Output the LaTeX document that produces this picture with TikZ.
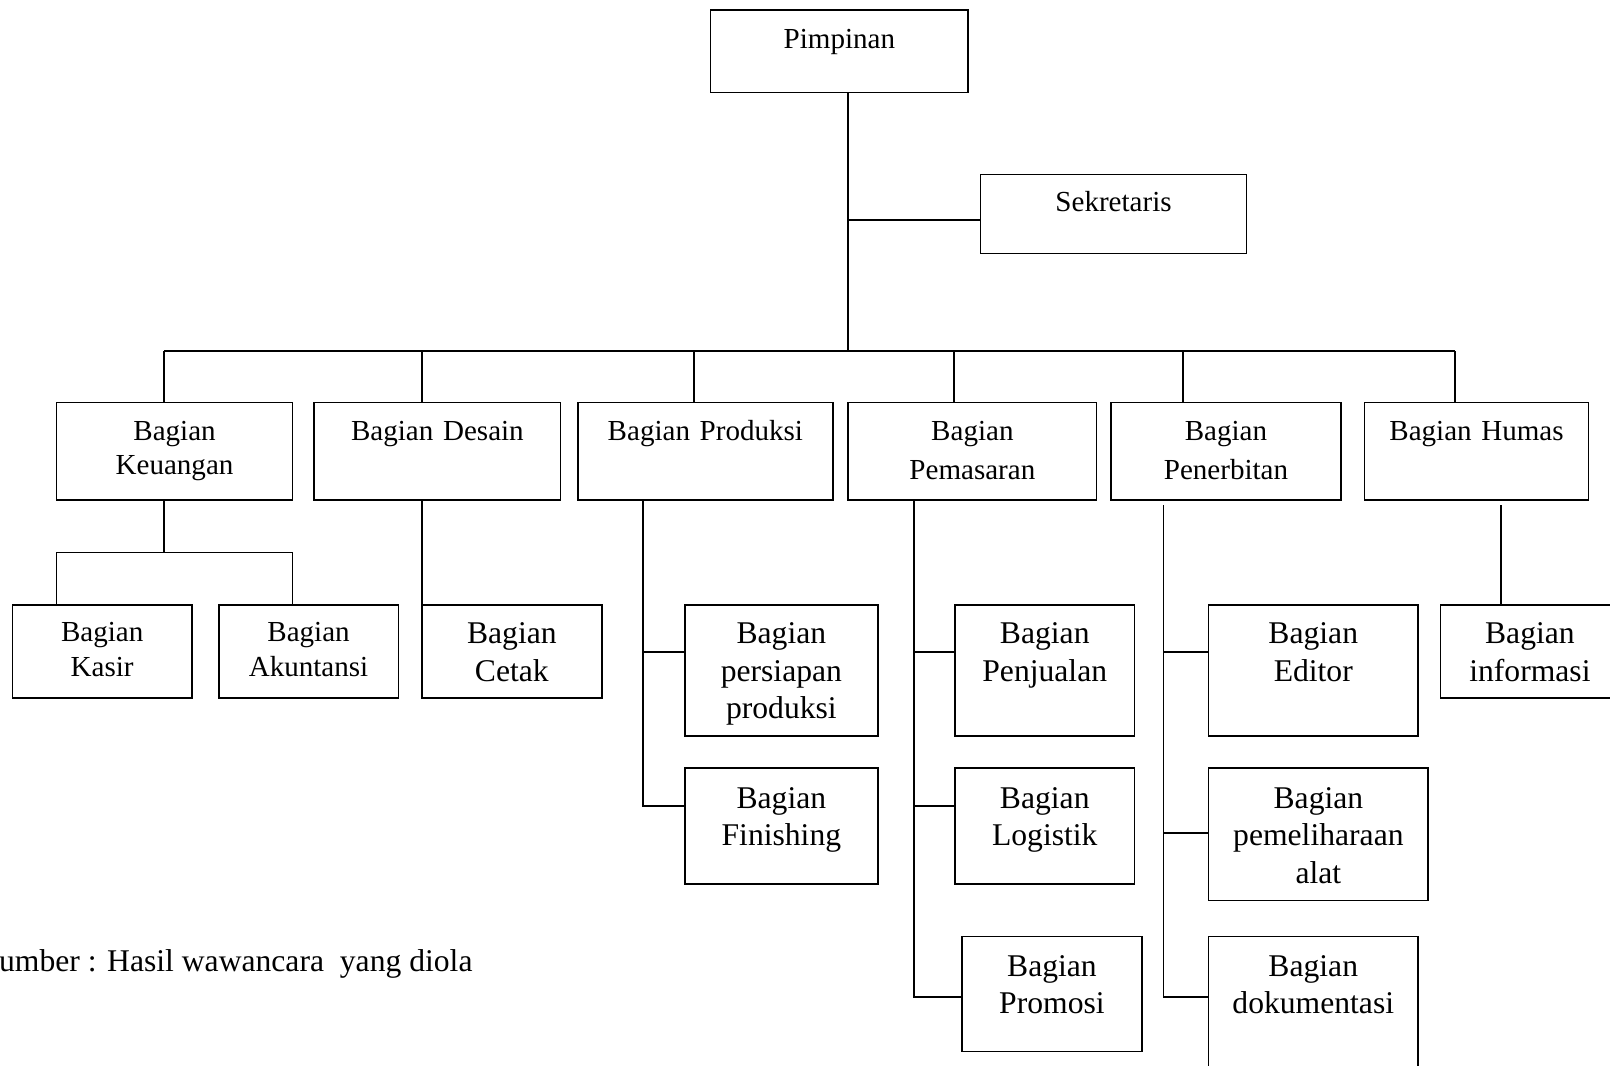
\documentclass[tikz,border=0pt]{standalone}
\usepackage{fontspec}
\setmainfont{Liberation Serif}
\begin{document}
\begin{tikzpicture}[x=1pt,y=-1pt,
  box/.style={draw, line width=1.6pt, rectangle, inner sep=0pt},
  link/.style={line width=1.6pt},
  lbl/.style={inner sep=0pt, anchor=base, text width=250pt, align=center},
  lblS/.style={lbl, font=\fontsize{28.3}{33.5}\selectfont},
  lblW/.style={lbl, font=\fontsize{28.3}{37.5}\selectfont},
  lblL/.style={lbl, font=\fontsize{30.8}{36.5}\selectfont},
]
\useasboundingbox (0,0) rectangle (1568,1038);
\fill[white] (0,0) rectangle (1568,1038);
\clip (0,0) rectangle (1568,1038);

% ---- top level ----
\node[box, minimum width=251, minimum height=80] (pim) at (817.5,50) {};
\node[lblS] (pimT) at (817.5,47) {Pimpinan};
\node[box, minimum width=259, minimum height=77] (sek) at (1084.5,208.5) {};
\node[lblS] (sekT) at (1084.5,206) {Sekretaris};

% ---- departments ----
\node[box, minimum width=230, minimum height=95] (keu) at (170,439.5) {};
\node[lblS] (keuT) at (170,429) {Bagian\\Keuangan};
\node[box, minimum width=240, minimum height=95] (des) at (426,439.5) {};
\node[lblS] (desT) at (426,429) {Bagian Desain};
\node[box, minimum width=248, minimum height=95] (pro) at (687,439.5) {};
\node[lblS] (proT) at (687,429) {Bagian Produksi};
\node[box, minimum width=242, minimum height=95] (pem) at (947,439.5) {};
\node[lblW] (pemT) at (947,429) {Bagian\\Pemasaran};
\node[box, minimum width=224, minimum height=95] (pen) at (1194,439.5) {};
\node[lblW] (penT) at (1194,429) {Bagian\\Penerbitan};
\node[box, minimum width=218, minimum height=95] (hum) at (1438,439.5) {};
\node[lblS] (humT) at (1438,429) {Bagian Humas};

% ---- sub units ----
\node[box, minimum width=175, minimum height=91] (kas) at (99.5,634.5) {};
\node[lblS] (kasT) at (99.5,625) {Bagian\\Kasir};
\node[box, minimum width=175, minimum height=91] (aku) at (300.5,634.5) {};
\node[lblS] (akuT) at (300.5,625) {Bagian\\Akuntansi};
\node[box, minimum width=175, minimum height=91] (cet) at (498.5,634.5) {};
\node[lblL] (cetT) at (498.5,627) {Bagian\\Cetak};

\node[box, minimum width=188, minimum height=128] (per) at (761,653) {};
\node[lblL] (perT) at (761,627) {Bagian\\persiapan\\produksi};
\node[box, minimum width=188, minimum height=113] (fin) at (761,804.5) {};
\node[lblL] (finT) at (761,787) {Bagian\\Finishing};

\node[box, minimum width=175, minimum height=128] (jua) at (1017.5,653) {};
\node[lblL] (juaT) at (1017.5,627) {Bagian\\Penjualan};
\node[box, minimum width=175, minimum height=113] (log) at (1017.5,804.5) {};
\node[lblL] (logT) at (1017.5,787) {Bagian\\Logistik};
\node[box, minimum width=175, minimum height=112] (prm) at (1024.5,968) {};
\node[lblL] (prmT) at (1024.5,951) {Bagian\\Promosi};

\node[box, minimum width=204, minimum height=128] (edi) at (1279,653) {};
\node[lblL] (ediT) at (1279,627) {Bagian\\Editor};
\node[box, minimum width=214, minimum height=129] (pel) at (1284,812.5) {};
\node[lblL] (pelT) at (1284,787) {Bagian\\pemeliharaan\\alat};
\node[box, minimum width=204, minimum height=148] (dok) at (1279,986) {};
\node[lblL] (dokT) at (1279,951) {Bagian\\dokumentasi};

\node[box, minimum width=177, minimum height=91] (inf) at (1491.5,634.5) {};
\node[lblL] (infT) at (1490,627) {Bagian\\informasi};

% ---- source note ----
\node[inner sep=0pt, anchor=base west, font=\fontsize{30.8}{36}\selectfont] (src)
  at (-1,946) {umber : Hasil wawancara\ \ yang diola};

% ---- connectors: leader and secretary ----
\coordinate (hub) at (826,342);
\coordinate (sekJ) at (826,214);
\draw[link] (hub |- pim.south) -- (hub);
\draw[link] (sekJ) -- (sekJ -| sek.west);

% ---- bus to departments ----
\coordinate (dKeu) at (160,342);
\coordinate (dDes) at (411,342);
\coordinate (dPro) at (676,342);
\coordinate (dPem) at (929,342);
\coordinate (dPen) at (1152,342);
\coordinate (dHum) at (1417,342);
\draw[link] (dKeu) -- (dHum);
\draw[link] (dKeu) -- (dKeu |- keu.north);
\draw[link] (dDes) -- (dDes |- des.north);
\draw[link] (dPro) -- (dPro |- pro.north);
\draw[link] (dPem) -- (dPem |- pem.north);
\draw[link] (dPen) -- (dPen |- pen.north);
\draw[link] (dHum) -- (dHum |- hum.north);

% ---- Keuangan ----
\coordinate (keuJ) at (160,538);
\coordinate (keuL) at (55,538);
\coordinate (keuR) at (285,538);
\draw[link] (keuJ |- keu.south) -- (keuJ);
\draw[link] (keuL |- kas.north) -- (keuL) -- (keuR) -- (keuR |- aku.north);

% ---- Desain ----
\coordinate (desV) at (411,540);
\draw[link] (desV |- des.south) -- (desV |- cet.north);

% ---- Produksi ----
\coordinate (proJ1) at (626,635);
\coordinate (proJ2) at (626,785);
\draw[link] (proJ2 |- pro.south) -- (proJ2) -- (proJ2 -| fin.west);
\draw[link] (proJ1) -- (proJ1 -| per.west);

% ---- Pemasaran ----
\coordinate (pemJ1) at (890,635);
\coordinate (pemJ2) at (890,785);
\coordinate (pemJ3) at (890,971);
\draw[link] (pemJ3 |- pem.south) -- (pemJ3) -- (pemJ3 -| prm.west);
\draw[link] (pemJ1) -- (pemJ1 -| jua.west);
\draw[link] (pemJ2) -- (pemJ2 -| log.west);

% ---- Penerbitan ----
\coordinate (penTop) at (1133,492);
\coordinate (penJ1) at (1133,635);
\coordinate (penJ2) at (1133,811);
\coordinate (penJ3) at (1133,971);
\draw[link] (penTop) -- (penJ3) -- (penJ3 -| dok.west);
\draw[link] (penJ1) -- (penJ1 -| edi.west);
\draw[link] (penJ2) -- (penJ2 -| pel.west);

% ---- Humas ----
\coordinate (humTop) at (1462,492);
\draw[link] (humTop) -- (humTop |- inf.north);
\end{tikzpicture}
\end{document}
